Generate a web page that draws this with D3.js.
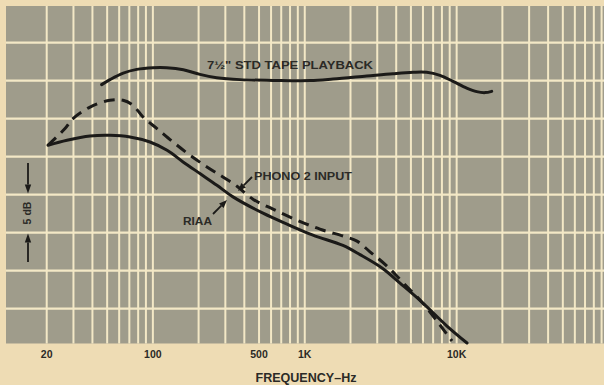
<!DOCTYPE html>
<html><head><meta charset="utf-8">
<script src="https://cdn.jsdelivr.net/npm/d3@7"></script>
<style>html,body{margin:0;padding:0;background:#eedcb4;}svg{display:block;}</style>
</head><body>
<script>
// ---- data ----
const tapeFreq = [46, 52.2, 63.8, 78.3, 100.7, 123, 158.6, 204, 263, 375, 618, 1082, 1534, 2558, 3810, 5158, 6348, 7764, 9460, 11640, 13550, 15370, 17010];
const tapeDb   = [4.47, 5.13, 5.99, 6.48, 6.70, 6.70, 6.44, 5.82, 5.39, 5.13, 5.03, 5.0, 5.2, 5.6, 5.91, 6.09, 6.09, 5.69, 4.90, 4.02, 3.55, 3.42, 3.59];
const riaaFreq = [20.4, 27.2, 38.6, 52.2, 70.7, 95.7, 124, 158, 204, 264, 337, 531, 764, 1132, 1784, 2310, 3274, 4236, 6000, 8634, 11700];
const riaaDb   = [-3.51, -2.85, -2.29, -2.20, -2.42, -3.08, -4.17, -5.70, -7.23, -8.77, -10.30, -12.45, -13.89, -15.34, -16.70, -17.90, -19.75, -21.65, -24.28, -27.30, -29.53];
const phonoFreq = [20.4, 26.4, 29.8, 38.6, 52.2, 63.6, 74.0, 86.1, 106.4, 135.7, 175.6, 227, 289, 358, 456, 618, 889, 1259, 1840, 2208, 2688, 3478, 4432, 6000, 7764, 9318];
const phonoDb   = [-3.51, -1.31, 0, 1.52, 2.41, 2.41, 1.75, 0.21, -1.31, -3.08, -4.82, -6.36, -7.68, -8.90, -10.61, -11.92, -13.37, -14.55, -15.54, -16.13, -17.53, -19.41, -21.58, -24.32, -27.17, -29.27];
const tickValues = [20, 100, 500, 1000, 10000];
const tickLabels = ["20", "100", "500", "1K", "10K"];
const dbGridValues = [10, 5, 0, -5, -10, -15, -20, -25];

// ---- layout ----
const W = 604, H = 385;
const plot = {left: 6, right: 604, top: 6, bottom: 343.5};
const svg = d3.select("body").append("svg").attr("width", W).attr("height", H);

const x = d3.scaleLog().domain([10.79, 93340]).range([plot.left, plot.right]);
const y = d3.scaleLinear().domain([14.82, -29.6]).range([plot.top, plot.bottom]);

const GRID = "#f3e8c6", PLOT = "#9f9c8b", INK = "#1b1a18", TXT = "#2b2a26";

svg.append("rect").attr("x", plot.left).attr("y", plot.top)
  .attr("width", plot.right - plot.left).attr("height", plot.bottom - plot.top).attr("fill", PLOT);

// vertical grid: 20..90, 100..900, ... up to 90k
const gridFreqs = [];
for (let d = 10; d <= 10000; d *= 10) for (let m = 1; m <= 9; m++) { const f = d * m; if (f >= 20 && f < 93000) gridFreqs.push(f); }
svg.append("g").selectAll("line").data(gridFreqs).join("line")
  .attr("x1", d => x(d)).attr("x2", d => x(d))
  .attr("y1", plot.top).attr("y2", plot.bottom)
  .attr("stroke", GRID).attr("stroke-width", 2);

svg.append("g").selectAll("line").data(dbGridValues).join("line")
  .attr("x1", plot.left).attr("x2", plot.right)
  .attr("y1", d => y(d)).attr("y2", d => y(d))
  .attr("stroke", GRID).attr("stroke-width", 2.2);

// curves
const line = d3.line().x(d => x(d[0])).y(d => y(d[1])).curve(d3.curveCatmullRom.alpha(0.5));
const zip = (a, b) => a.map((v, i) => [v, b[i]]);

svg.append("path").datum(zip(tapeFreq, tapeDb)).attr("d", line)
  .attr("fill", "none").attr("stroke", INK).attr("stroke-width", 3).attr("stroke-linecap", "round");
svg.append("path").datum(zip(riaaFreq, riaaDb)).attr("d", line)
  .attr("fill", "none").attr("stroke", INK).attr("stroke-width", 3).attr("stroke-linecap", "round");
svg.append("path").datum(zip(phonoFreq, phonoDb)).attr("d", line)
  .attr("fill", "none").attr("stroke", INK).attr("stroke-width", 3)
  .attr("stroke-dasharray", "11,7");

// x tick labels
const font = "'Liberation Sans', Arial, sans-serif";
svg.append("g").selectAll("text").data(tickValues).join("text")
  .attr("x", d => x(d)).attr("y", 358)
  .attr("text-anchor", "middle").attr("font-family", font).attr("font-weight", "bold")
  .attr("font-size", 10.5).attr("fill", TXT)
  .text((d, i) => tickLabels[i]);

svg.append("text").attr("x", 306).attr("y", 382).attr("text-anchor", "middle")
  .attr("font-family", font).attr("font-weight", "bold").attr("font-size", 12).attr("fill", TXT)
  .attr("textLength", 101).attr("lengthAdjust", "spacingAndGlyphs")
  .text("FREQUENCY–Hz");

// annotations
function label(txt, xx, yy, len, size) {
  svg.append("text").attr("x", xx).attr("y", yy)
    .attr("font-family", font).attr("font-weight", "bold").attr("font-size", size).attr("fill", TXT)
    .attr("textLength", len).attr("lengthAdjust", "spacingAndGlyphs").text(txt);
}
label('7½" STD TAPE PLAYBACK', 207, 69, 166, 11.5);
label("PHONO 2 INPUT", 254, 180, 98, 11.5);
label("RIAA", 183, 224.5, 29, 11.5);

function arrow(x1, y1, x2, y2, head, w) {
  const a = Math.atan2(y2 - y1, x2 - x1);
  const bx = x2 - head * Math.cos(a), by = y2 - head * Math.sin(a);
  svg.append("line").attr("x1", x1).attr("y1", y1).attr("x2", bx).attr("y2", by)
    .attr("stroke", INK).attr("stroke-width", 1.8);
  const px = -Math.sin(a) * w, py = Math.cos(a) * w;
  svg.append("path").attr("d", `M${x2},${y2}L${bx + px},${by + py}L${bx - px},${by - py}Z`).attr("fill", INK);
}
arrow(252, 177, 238, 191, 8, 3.2);
arrow(213, 214, 227, 200, 8, 3.2);

// 5 dB scale marker
arrow(28, 163, 28, y(-10) - 1, 9, 3.2);
arrow(28, 262, 28, y(-15) + 1, 9, 3.2);
svg.append("text").attr("transform", `translate(31,213) rotate(-90)`)
  .attr("text-anchor", "middle").attr("font-family", font).attr("font-weight", "bold")
  .attr("font-size", 10.5).attr("fill", TXT).text("5 dB");
</script>
</body></html>
